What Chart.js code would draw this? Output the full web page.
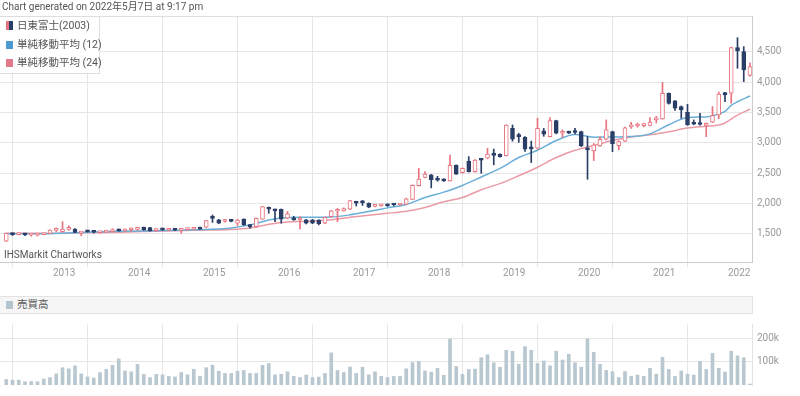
<!DOCTYPE html>
<html>
<head>
<meta charset="utf-8">
<script src="https://cdn.jsdelivr.net/npm/chart.js@4.4.1/dist/chart.umd.min.js"></script>
<style>
  body { margin: 0; background: #fff; font-family: Roboto, "Noto Sans CJK JP", sans-serif; }
  #wrap { position: relative; width: 800px; height: 396px; overflow: hidden; }
  #mainChart { position: absolute; left: 0; top: 0; }
  #volChart { position: absolute; left: 0; top: 313px; }
  .title { position: absolute; left: 2px; top: 0; font-size: 10px; line-height: 14px; color: #555; }
  .legend { position: absolute; left: 0; top: 16px; width: 99px; height: 56px; background: #fff; border: 1px solid #ddd; border-left: none; }
  .legend div { position: absolute; left: 17px; font-size: 10.5px; line-height: 12px; color: #555; white-space: nowrap; }
  .legend span { position: absolute; left: -11px; top: 2px; width: 7px; height: 8px; }
  .mark { position: absolute; left: 4px; top: 249px; font-size: 10px; color: #555; }
  .volhead { position: absolute; left: 0; top: 296px; width: 752px; height: 16px; background: #f6f6f6; border: 1px solid #e3e3e3; border-left: none; }
  .volhead div { position: absolute; left: 17px; top: 2px; font-size: 10.5px; line-height: 12px; color: #555; }
  .volhead span { position: absolute; left: -11px; top: 2px; width: 7px; height: 8px; background: #b4c4ce; }
</style>
</head>
<body>
<div id="wrap">
  <canvas id="mainChart" width="800" height="282"></canvas>
  <canvas id="volChart" width="800" height="83"></canvas>
  <div class="title">Chart generated on 2022年5月7日 at 9:17 pm</div>
  <div class="legend">
    <div style="top:3px"><span style="background:linear-gradient(90deg,#e8727d 50%,#2b3e67 50%);height:9px;top:1px"></span>日東富士(2003)</div>
    <div style="top:22px"><span style="background:#4a9bd0"></span>単純移動平均 (12)</div>
    <div style="top:40px"><span style="background:#e27a8c"></span>単純移動平均 (24)</div>
  </div>
  <div class="mark">IHSMarkit Chartworks</div>
  <div class="volhead"><div><span></span>売買高</div></div>
</div>
<script>
// monthly candles, Jun 2012 - May 2022
const months = [];
for (let y = 2012; y <= 2022; y++) {
    for (let m = 1; m <= 12; m++) {
        if ((y === 2012 && m < 6) || (y === 2022 && m > 5)) continue;
        months.push(y + '-' + String(m).padStart(2, '0'));
    }
}

const open = [1380,1510,1490,1505,1480,1482,1490,1510,1560,1540,1575,1580,1515,1555,1535,1522,1530,1540,1572,1552,
    1570,1575,1610,1605,1556,1590,1562,1578,1558,1572,1578,1610,1612,1762,1732,1705,1730,1680,1745,1650,
    1622,1745,1940,1907,1907,1760,1760,1730,1732,1732,1730,1677,1786,1875,1880,1907,2033,2025,2007,1955,
    1962,1990,1985,1978,1990,2070,2297,2432,2473,2407,2402,2375,2630,2511,2700,2528,2725,2748,2835,2813,
    2790,3243,3130,3095,2930,2913,3199,3105,3369,3160,3188,3200,3188,2913,2869,2952,3061,3188,2955,3030,
    3265,3280,3285,3290,3380,3396,3819,3693,3599,3506,3325,3320,3290,3341,3462,3830,3819,4571,4506,4115];
const high = [1515,1515,1515,1510,1495,1497,1510,1570,1600,1705,1635,1590,1535,1560,1540,1545,1550,1585,1580,1580,
    1600,1605,1615,1610,1585,1595,1578,1582,1578,1595,1605,1615,1725,1812,1740,1740,1735,1742,1750,1660,
    1765,1955,1945,1912,1912,1870,1790,1786,1740,1738,1735,1780,1890,1920,1930,2055,2040,2055,2012,1975,
    1990,1995,1995,2000,2090,2310,2583,2528,2480,2450,2410,2802,2640,2590,2775,2728,2740,2912,2900,2820,
    3300,3297,3160,3105,3030,3408,3240,3420,3375,3215,3195,3240,3195,3105,2990,3100,3380,3195,3035,3260,
    3340,3330,3325,3420,3440,4000,3825,3700,3610,3638,3380,3489,3330,3599,3840,3835,4580,4736,4588,4320];
const low = [1375,1475,1485,1470,1462,1465,1485,1505,1540,1530,1560,1520,1470,1530,1515,1515,1525,1535,1545,1545,
    1545,1565,1560,1548,1550,1560,1555,1555,1512,1565,1570,1575,1605,1690,1670,1695,1700,1640,1640,1595,
    1615,1740,1842,1704,1677,1750,1725,1578,1665,1670,1650,1670,1780,1704,1875,1900,1960,1970,1935,1945,
    1955,1955,1965,1970,1985,2065,2290,2425,2260,2370,2365,2370,2480,2500,2520,2520,2500,2740,2640,2765,
    2785,3030,3010,2860,2677,2900,3110,3100,3150,3095,3155,3150,2940,2402,2710,2945,3050,2858,2886,3020,
    3240,3260,3265,3280,3330,3390,3640,3535,3407,3290,3300,3295,3105,3335,3400,3680,3654,4231,4011,4100];
const close = [1510,1490,1505,1485,1490,1492,1505,1565,1575,1580,1590,1525,1525,1535,1528,1535,1540,1560,1552,1570,
    1582,1590,1568,1552,1578,1568,1570,1562,1572,1590,1600,1580,1720,1758,1678,1732,1708,1730,1650,1622,
    1758,1950,1907,1880,1743,1830,1732,1740,1677,1680,1670,1775,1880,1895,1920,2050,2007,2015,1940,1965,
    1978,1962,1978,1992,2080,2300,2405,2487,2395,2385,2375,2630,2487,2583,2528,2720,2715,2816,2795,2775,
    3297,3061,3105,2897,2902,3243,3144,3369,3160,3185,3162,3172,2952,2886,2968,3061,3215,2990,3025,3250,
    3297,3297,3300,3345,3398,3819,3654,3572,3544,3297,3308,3305,3319,3451,3808,3791,4571,4517,4203,4258];

const volume = [24000,21000,21000,14000,15000,14000,26000,32000,48000,75000,70000,83000,48000,35000,30000,54000,68000,85000,113000,61000,
    57000,89000,46000,32000,46000,44000,37000,35000,54000,44000,68000,37000,75000,86000,59000,50000,50000,59000,63000,50000,
    50000,85000,93000,44000,46000,57000,37000,32000,43000,32000,34000,50000,139000,63000,54000,78000,50000,77000,44000,57000,
    37000,32000,37000,37000,70000,97000,102000,61000,56000,72000,42000,199000,80000,46000,67000,69000,118000,131000,96000,77000,
    150000,146000,90000,166000,150000,93000,104000,83000,146000,108000,133000,96000,77000,199000,141000,90000,63000,58000,32000,58000,
    37000,43000,37000,72000,47000,120000,67000,37000,61000,47000,43000,102000,67000,137000,72000,56000,146000,126000,118000,4000];

// moving averages at these month indices
const maIndex = [0,6,12,18,24,30,36,39,42,44,48,52,55,58,61,64,67,70,73,76,79,82,85,88,91,94,97,100,103,106,109,112,114,115,116,117,119];
const ma12 = [1505,1505,1525,1545,1555,1570,1600,1650,1730,1765,1775,1780,1815,1870,1930,1985,2100,2190,2300,2440,2580,2760,2880,3040,3140,3095,3100,3105,3150,3300,3420,3430,3480,3520,3620,3680,3775];
const ma24 = [1512,1512,1520,1530,1545,1560,1575,1600,1660,1690,1710,1735,1775,1810,1840,1875,1935,2030,2100,2230,2330,2460,2600,2760,2880,2960,3040,3100,3135,3185,3245,3275,3295,3330,3395,3460,3555];

const priceTicks = [1500, 2000, 2500, 3000, 3500, 4000, 4500];
const volTicks = [100000, 200000];

// year ticks at each January
const yearTicks = [];
const yearLabel = {};
months.forEach((m, i) => {
    if (m.endsWith('-01')) { yearTicks.push(i); yearLabel[i] = m.slice(0, 4); }
});

const upColor = '#e8727d';
const downColor = '#2b3e67';
const gridColor = '#e6e6e6';
const isUp = close.map((c, i) => c >= open[i]);

const xMin = -1, xMax = 119.32;

const topLine = {
    id: 'topLine',
    afterDraw(chart) {
        const a = chart.chartArea, c = chart.ctx;
        c.save();
        c.strokeStyle = '#e0e0e0';
        c.lineWidth = 1;
        c.beginPath();
        c.moveTo(a.left, a.top + 0.5);
        c.lineTo(a.right, a.top + 0.5);
        c.stroke();
        c.restore();
    }
};

const mainChart = new Chart(document.getElementById('mainChart'), {
    type: 'bar',
    data: {
        datasets: [
            {
                type: 'bar',
                data: months.map((m, i) => ({ x: i, y: [open[i], close[i]] })),
                backgroundColor: isUp.map(u => u ? '#ffffff' : downColor),
                borderColor: isUp.map(u => u ? upColor : downColor),
                borderWidth: 1,
                borderSkipped: false,
                barThickness: 4,
                minBarLength: 2,
                grouped: false,
                order: 0
            },
            {
                type: 'bar',
                data: months.map((m, i) => ({ x: i, y: [low[i], high[i]] })),
                backgroundColor: isUp.map(u => u ? upColor : downColor),
                barThickness: 1,
                grouped: false,
                order: 1
            },
            {
                type: 'line',
                data: maIndex.map((x, k) => ({ x: x, y: ma12[k] })),
                borderColor: '#6aaed8',
                borderWidth: 1.5,
                pointRadius: 0,
                cubicInterpolationMode: 'monotone',
                order: 2
            },
            {
                type: 'line',
                data: maIndex.map((x, k) => ({ x: x, y: ma24[k] })),
                borderColor: '#eb9ba6',
                borderWidth: 1.5,
                pointRadius: 0,
                cubicInterpolationMode: 'monotone',
                order: 3
            }
        ]
    },
    options: {
        responsive: false,
        animation: false,
        layout: { padding: { top: 16, left: 0, right: 0, bottom: 0 } },
        plugins: { legend: { display: false }, tooltip: { enabled: false } },
        scales: {
            x: {
                type: 'linear',
                min: xMin,
                max: xMax,
                offset: false,
                grid: { color: gridColor, tickLength: 5, tickColor: gridColor },
                border: { color: '#cccccc' },
                ticks: {
                    align: 'start',
                    labelOffset: 3,
                    padding: 0,
                    maxRotation: 0,
                    autoSkip: false,
                    color: '#999',
                    font: { family: 'Roboto', size: 10 },
                    callback: v => yearLabel[v]
                },
                afterBuildTicks: s => { s.ticks = yearTicks.map(v => ({ value: v })); },
                afterFit: s => { s.height = 20; }
            },
            y: {
                position: 'right',
                min: 1038,
                max: 5093,
                grid: { color: gridColor, drawTicks: false },
                border: { color: '#cccccc' },
                ticks: {
                    padding: 5,
                    color: '#999',
                    font: { family: 'Roboto', size: 10 },
                    callback: v => v.toLocaleString('en-US')
                },
                afterBuildTicks: s => { s.ticks = priceTicks.map(v => ({ value: v })); },
                afterFit: s => { s.width = 48; }
            }
        }
    },
    plugins: [topLine]
});

const volChart = new Chart(document.getElementById('volChart'), {
    type: 'bar',
    data: {
        datasets: [{
            data: months.map((m, i) => ({ x: i, y: volume[i] })),
            backgroundColor: '#b8c7d0',
            barThickness: 3,
            grouped: false
        }]
    },
    options: {
        responsive: false,
        animation: false,
        layout: { padding: { top: 0, left: 0, right: 0, bottom: 2.5 } },
        plugins: { legend: { display: false }, tooltip: { enabled: false } },
        scales: {
            x: {
                type: 'linear',
                min: xMin,
                max: xMax,
                offset: false,
                grid: { color: gridColor, drawTicks: false },
                border: { display: false },
                ticks: { display: false },
                afterBuildTicks: s => { s.ticks = yearTicks.map(v => ({ value: v })); },
                afterFit: s => { s.height = 0; }
            },
            y: {
                position: 'right',
                min: 0,
                max: 264000,
                grid: { color: gridColor, drawTicks: false },
                border: { color: '#e3e3e3' },
                ticks: {
                    padding: 5,
                    color: '#999',
                    font: { family: 'Roboto', size: 10 },
                    callback: v => (v / 1000) + 'k'
                },
                afterBuildTicks: s => { s.ticks = volTicks.map(v => ({ value: v })); },
                afterFit: s => { s.width = 48; }
            }
        }
    }
});
</script>
</body>
</html>
